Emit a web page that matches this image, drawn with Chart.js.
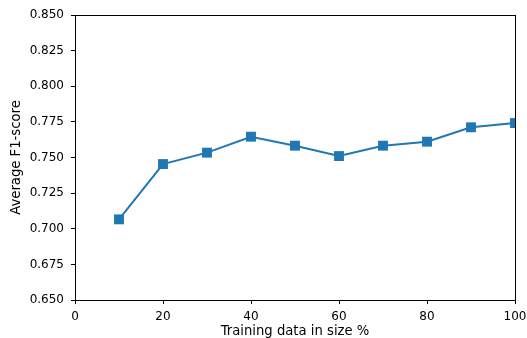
<!DOCTYPE html>
<html>
<head>
<meta charset="utf-8">
<script src="https://cdn.jsdelivr.net/npm/chart.js@4/dist/chart.umd.min.js"></script>
<style>
html,body{margin:0;padding:0;background:#fff;}
#wrap{width:527px;height:338px;position:relative;}
</style>
</head>
<body>
<div id="wrap"><canvas id="c" width="527" height="338"></canvas></div>
<script>
const trainingSize = [10, 20, 30, 40, 50, 60, 70, 80, 90, 100];
const f1Scores = [0.7066, 0.7454, 0.7534, 0.7646, 0.7583, 0.7510, 0.7583, 0.7611, 0.7712, 0.7742];
const yTicks = [0.650, 0.675, 0.700, 0.725, 0.750, 0.775, 0.800, 0.825, 0.850];
const xTicks = [0, 20, 40, 60, 80, 100];

const FONT = "'DejaVu Sans', sans-serif";

const frame = {
  id: 'frame',
  afterDraw(chart) {
    const {ctx, chartArea: a} = chart;
    ctx.save();
    ctx.strokeStyle = '#000';
    ctx.lineWidth = 1;
    ctx.strokeRect(Math.round(a.left) + 0.5, Math.round(a.top) + 0.5, Math.round(a.right - a.left), Math.round(a.bottom - a.top));
    ctx.restore();
  }
};

new Chart(document.getElementById('c'), {
  type: 'line',
  data: {
    datasets: [{
      data: trainingSize.map((x, i) => ({x: x, y: f1Scores[i]})),
      borderColor: '#1f77b4',
      backgroundColor: '#1f77b4',
      borderWidth: 2,
      pointStyle: 'rect',
      pointRadius: 7,
      pointHoverRadius: 7,
      pointBorderWidth: 0,
      tension: 0,
      fill: false
    }]
  },
  options: {
    responsive: false,
    animation: false,
    events: [],
    layout: {padding: {left: 0, right: 12, top: 15, bottom: 0}},
    plugins: {legend: {display: false}, tooltip: {enabled: false}},
    scales: {
      x: {
        type: 'linear',
        min: 0, max: 100,
        afterBuildTicks(s) { s.ticks = xTicks.map(v => ({value: v})); },
        afterFit(s) { s.height = 38; s.paddingLeft = 0; s.paddingRight = 0; },
        grid: {drawOnChartArea: false, drawTicks: true, tickLength: 4, tickColor: '#000', tickWidth: 1},
        border: {display: true, color: '#000', width: 1},
        ticks: {color: '#000', font: {family: FONT, size: 12}, padding: 5.5, maxRotation: 0,
                callback: v => String(v)},
        title: {display: true, text: 'Training data in size %', color: '#000',
                font: {family: FONT, size: 13.2, lineHeight: 1}, padding: {top: 0, bottom: 0}}
      },
      y: {
        type: 'linear',
        min: 0.65, max: 0.85,
        afterBuildTicks(s) { s.ticks = yTicks.map(v => ({value: v})); },
        afterFit(s) { s.width = 75; s.paddingTop = 0; s.paddingBottom = 0; },
        grid: {drawOnChartArea: false, drawTicks: true, tickLength: 4, tickColor: '#000', tickWidth: 1},
        border: {display: true, color: '#000', width: 1},
        ticks: {color: '#000', font: {family: FONT, size: 12}, padding: 7,
                callback: v => v.toFixed(3)},
        title: {display: true, text: 'Average F1-score', color: '#000',
                font: {family: FONT, size: 13.2, lineHeight: 1}, padding: {top: 10, bottom: 0}}
      }
    }
  },
  plugins: [frame]
});
</script>
</body>
</html>
